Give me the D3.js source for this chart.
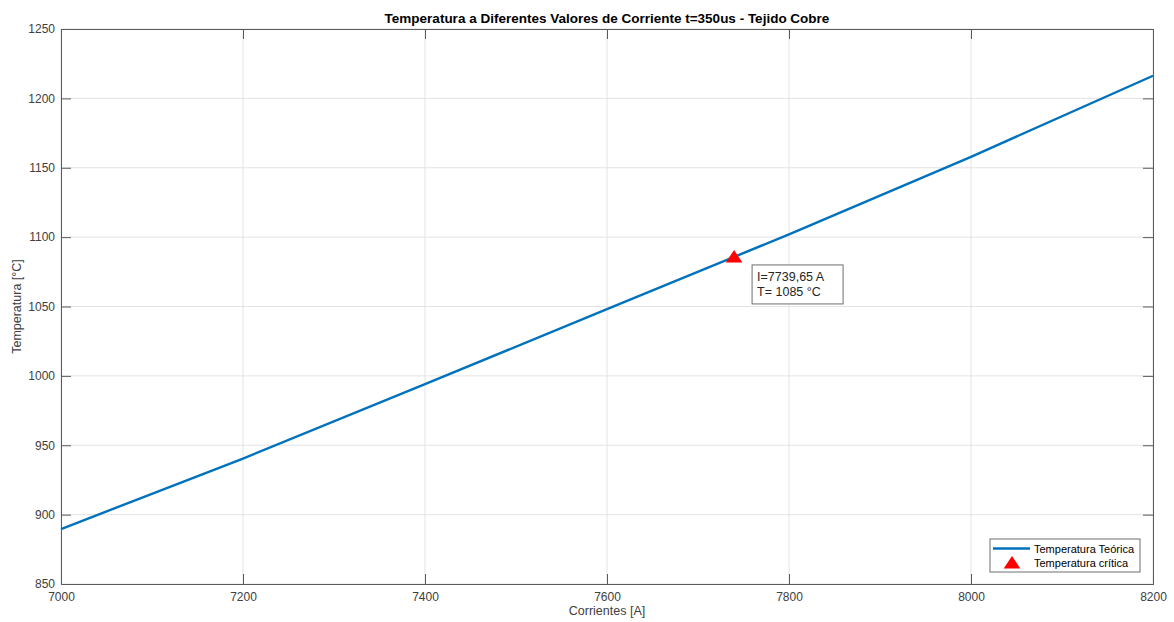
<!DOCTYPE html>
<html>
<head>
<meta charset="utf-8">
<script src="https://cdn.jsdelivr.net/npm/d3@7"></script>
<style>
  html, body { margin: 0; padding: 0; background: #fff; }
  svg { display: block; font-family: "Liberation Sans", Arial, Helvetica, sans-serif; }
</style>
</head>
<body>
<svg id="chart" width="1174" height="622"></svg>
<script>
// Theoretical temperature of the copper mesh vs. current (t = 350 us)
const currents = [7000, 7200, 7400, 7600, 7800, 8000, 8200];
const temperatures = [889.6, 940.4, 994.0, 1048.1, 1102.0, 1157.9, 1216.3];

// Critical point (melting temperature of copper)
const criticalCurrent = 7739.65;
const criticalTemp = 1085;

const xTicks = [7000, 7200, 7400, 7600, 7800, 8000, 8200];
const yTicks = [850, 900, 950, 1000, 1050, 1100, 1150, 1200, 1250];

const titleText = "Temperatura a Diferentes Valores de Corriente t=350us - Tejido Cobre";
const xLabel = "Corrientes [A]";
const yLabel = "Temperatura [°C]";
const seriesNames = ["Temperatura Teórica", "Temperatura crítica"];

const svg = d3.select("#chart");
const m = { left: 61, right: 1153, top: 29, bottom: 584 };

const x = d3.scaleLinear().domain([7000, 8200]).range([m.left, m.right]);
const y = d3.scaleLinear().domain([850, 1250]).range([m.bottom, m.top]);

const axisColor = "#5a5a5a";
const textColor = "#404040";

// Grid
const grid = svg.append("g");
grid.selectAll("line.gx").data(xTicks).join("line")
  .attr("x1", d => x(d)).attr("x2", d => x(d))
  .attr("y1", m.top).attr("y2", m.bottom)
  .attr("stroke", "#e3e3e3").attr("stroke-width", 1);
grid.selectAll("line.gy").data(yTicks).join("line")
  .attr("y1", d => y(d)).attr("y2", d => y(d))
  .attr("x1", m.left).attr("x2", m.right)
  .attr("stroke", "#e3e3e3").attr("stroke-width", 1);

// Axes (ticks point inward, box on all four sides)
const tickLen = 10;
const axB = svg.append("g").attr("transform", `translate(0,${m.bottom})`)
  .call(d3.axisBottom(x).tickValues(xTicks).tickSize(-tickLen).tickPadding(8).tickFormat(d3.format("d")));
const axT = svg.append("g").attr("transform", `translate(0,${m.top})`)
  .call(d3.axisTop(x).tickValues(xTicks).tickSize(-tickLen).tickFormat(""));
const axL = svg.append("g").attr("transform", `translate(${m.left},0)`)
  .call(d3.axisLeft(y).tickValues(yTicks).tickSize(-tickLen).tickPadding(6).tickFormat(d3.format("d")));
const axR = svg.append("g").attr("transform", `translate(${m.right},0)`)
  .call(d3.axisRight(y).tickValues(yTicks).tickSize(-tickLen).tickFormat(""));

[axB, axT, axL, axR].forEach(a => {
  a.select(".domain").attr("stroke", axisColor).attr("stroke-width", 1);
  a.selectAll(".tick line").attr("stroke", axisColor).attr("stroke-width", 1);
  a.selectAll(".tick text").attr("fill", textColor)
    .style("font-size", "12px").style("font-family", "Liberation Sans, Arial, sans-serif");
});
// hide end ticks that overlap the box edges
[axB, axT].forEach(a => a.selectAll(".tick line").filter(d => d === 7000 || d === 8200).remove());
[axL, axR].forEach(a => a.selectAll(".tick line").filter(d => d === 850 || d === 1250).remove());

// Series line
const line = d3.line().x((d, i) => x(currents[i])).y(d => y(d));
svg.append("path")
  .datum(temperatures)
  .attr("d", line)
  .attr("fill", "none")
  .attr("stroke", "#0072BD")
  .attr("stroke-width", 2.4);

// Triangle marker helper
function triangle(cx, cy) {
  return `M${cx},${cy - 8}L${cx + 8.3},${cy + 4.5}L${cx - 8.3},${cy + 4.5}Z`;
}

const px = x(criticalCurrent), py = y(criticalTemp);
svg.append("path").attr("d", triangle(px, py)).attr("fill", "#ff0000");

// Data tip
const tip = svg.append("g").attr("transform", `translate(${px + 18},${py + 7})`);
tip.append("rect").attr("x", 0).attr("y", 0).attr("width", 91).attr("height", 39)
  .attr("fill", "#fff").attr("stroke", "#6e6e6e").attr("stroke-width", 1);
tip.append("text").attr("x", 5).attr("y", 16)
  .attr("fill", "#262626").style("font-size", "12.5px")
  .text(`I=${d3.format(".2f")(criticalCurrent).replace(".", ",")} A`);
tip.append("text").attr("x", 5).attr("y", 31)
  .attr("fill", "#262626").style("font-size", "12.5px")
  .text(`T= ${criticalTemp} °C`);

// Title and axis labels
svg.append("text").attr("x", (m.left + m.right) / 2).attr("y", 23)
  .attr("text-anchor", "middle").attr("fill", "#000")
  .style("font-size", "13.5px").style("font-weight", "bold").text(titleText);
svg.append("text").attr("x", (m.left + m.right) / 2).attr("y", 615)
  .attr("text-anchor", "middle").attr("fill", textColor)
  .style("font-size", "12.5px").text(xLabel);
svg.append("text")
  .attr("transform", `translate(21,${(m.top + m.bottom) / 2}) rotate(-90)`)
  .attr("text-anchor", "middle").attr("fill", textColor)
  .style("font-size", "12.5px").text(yLabel);

// Legend
const lg = svg.append("g").attr("transform", "translate(990,539)");
lg.append("rect").attr("width", 150).attr("height", 33)
  .attr("fill", "#fff").attr("stroke", "#6e6e6e").attr("stroke-width", 1);
lg.append("line").attr("x1", 3).attr("x2", 40).attr("y1", 9.5).attr("y2", 9.5)
  .attr("stroke", "#0072BD").attr("stroke-width", 2.4);
lg.append("path").attr("d", triangle(22, 25)).attr("fill", "#ff0000");
lg.selectAll("text.lt").data(seriesNames).join("text")
  .attr("x", 44).attr("y", (d, i) => 13.5 + i * 14.5)
  .attr("fill", "#000").style("font-size", "11px").text(d => d);
</script>
</body>
</html>
